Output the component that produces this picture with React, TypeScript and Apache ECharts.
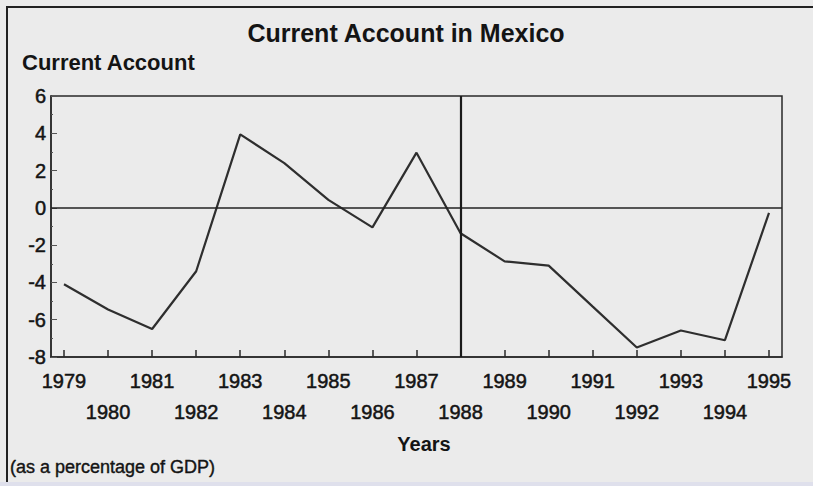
import React, { useEffect, useRef } from "react";
import * as echarts from "echarts";

const years = [1979, 1980, 1981, 1982, 1983, 1984, 1985, 1986, 1987, 1988, 1989, 1990, 1991, 1992, 1993, 1994, 1995];
const currentAccount = [-4.1, -5.45, -6.5, -3.4, 3.94, 2.4, 0.43, -1.05, 2.96, -1.36, -2.87, -3.1, -5.3, -7.49, -6.58, -7.1, -0.27];
const yTicks = [-8, -6, -4, -2, 0, 2, 4, 6];
const markerYear = 1988;
const upperRowYears = years.filter((_, i) => i % 2 === 0);
const lowerRowYears = years.filter((_, i) => i % 2 === 1);

const FONT = "Arial, 'Liberation Sans', Helvetica, sans-serif";
const INK = "#141414";
const X_MIN = 1978.705;
const X_MAX = 1995.295;

export default function App() {
  const ref = useRef<HTMLDivElement>(null);
  useEffect(() => {
    document.body.style.margin = "0";
    const chart = echarts.init(ref.current!, null, { renderer: "svg" });
    const labelStyle = {
      margin: 14,
      color: INK,
      fontSize: 20,
      fontFamily: FONT,
      lineHeight: 20,
      verticalAlign: "top",
      textBorderColor: INK,
      textBorderWidth: 0.5,
      showMinLabel: true,
      showMaxLabel: true,
      formatter: (v: number) => String(Math.round(v)),
    };
    chart.setOption({
      animation: false,
      backgroundColor: "#ebebeb",
      textStyle: { fontFamily: FONT },
      grid: {
        left: 51,
        right: 31,
        top: 96,
        bottom: 129,
        show: true,
        borderColor: "#2a2a2a",
        borderWidth: 1.5,
        backgroundColor: "transparent",
      },
      xAxis: [
        {
          type: "value",
          min: X_MIN,
          max: X_MAX,
          axisLine: { show: true, onZero: false, lineStyle: { color: "#2a2a2a", width: 1.5 } },
          splitLine: { show: false },
          axisTick: {
            show: true,
            inside: true,
            length: 7,
            customValues: years,
            lineStyle: { color: "#2a2a2a", width: 1.5 },
          },
          axisLabel: { ...labelStyle, customValues: upperRowYears },
        },
        {
          type: "value",
          min: X_MIN,
          max: X_MAX,
          position: "bottom",
          offset: 31,
          axisLine: { show: false },
          splitLine: { show: false },
          axisTick: { show: false },
          axisLabel: { ...labelStyle, customValues: lowerRowYears },
        },
      ],
      yAxis: {
        type: "value",
        min: yTicks[0],
        max: yTicks[yTicks.length - 1],
        interval: 2,
        axisLine: { show: true, lineStyle: { color: "#2a2a2a", width: 1.5 } },
        splitLine: { show: false },
        axisTick: { show: true, inside: true, length: 6, lineStyle: { color: "#555", width: 1 } },
        minorTick: { show: true, splitNumber: 2, length: 2, lineStyle: { color: "#555", width: 1 } },
        axisLabel: {
          margin: 5,
          color: INK,
          fontSize: 20,
          fontFamily: FONT,
          textBorderColor: INK,
          textBorderWidth: 0.5,
        },
      },
      series: [
        {
          type: "line",
          xAxisIndex: 0,
          data: years.map((y, i) => [y, currentAccount[i]]),
          showSymbol: false,
          symbol: "none",
          lineStyle: { color: "#2e2e2e", width: 2.2 },
          markLine: {
            silent: true,
            symbol: "none",
            label: { show: false },
            data: [
              { yAxis: 0, lineStyle: { color: "#222", width: 1.5, type: "solid" } },
              { xAxis: markerYear, lineStyle: { color: "#1a1a1a", width: 2.2, type: "solid" } },
            ],
          },
        },
      ],
      graphic: [
        {
          type: "rect",
          shape: { x: 7, y: 7, width: 830, height: 480 },
          style: { fill: "none", stroke: "#222", lineWidth: 2 },
          silent: true,
        },
        {
          type: "rect",
          shape: { x: 0, y: 482, width: 813, height: 4 },
          style: { fill: "#dfe0ec" },
          silent: true,
        },
        {
          type: "text",
          x: 406,
          y: 33,
          style: {
            text: "Current Account in Mexico",
            textAlign: "center",
            textVerticalAlign: "middle",
            fontSize: 25,
            fontWeight: "bold",
            fontFamily: FONT,
            fill: INK,
          },
        },
        {
          type: "text",
          x: 22,
          y: 62,
          style: {
            text: "Current Account",
            textAlign: "left",
            textVerticalAlign: "middle",
            fontSize: 22,
            fontWeight: "bold",
            fontFamily: FONT,
            fill: INK,
          },
        },
        {
          type: "text",
          x: 424,
          y: 444,
          style: {
            text: "Years",
            textAlign: "center",
            textVerticalAlign: "middle",
            fontSize: 20,
            fontWeight: "bold",
            fontFamily: FONT,
            fill: INK,
          },
        },
        {
          type: "text",
          x: 10,
          y: 467,
          style: {
            text: "(as a percentage of GDP)",
            textAlign: "left",
            textVerticalAlign: "middle",
            fontSize: 18,
            fontFamily: FONT,
            fill: INK,
            stroke: INK,
            lineWidth: 0.4,
          },
        },
      ],
    });
    return () => chart.dispose();
  }, []);
  return <div ref={ref} style={{ width: 813, height: 486 }} />;
}
